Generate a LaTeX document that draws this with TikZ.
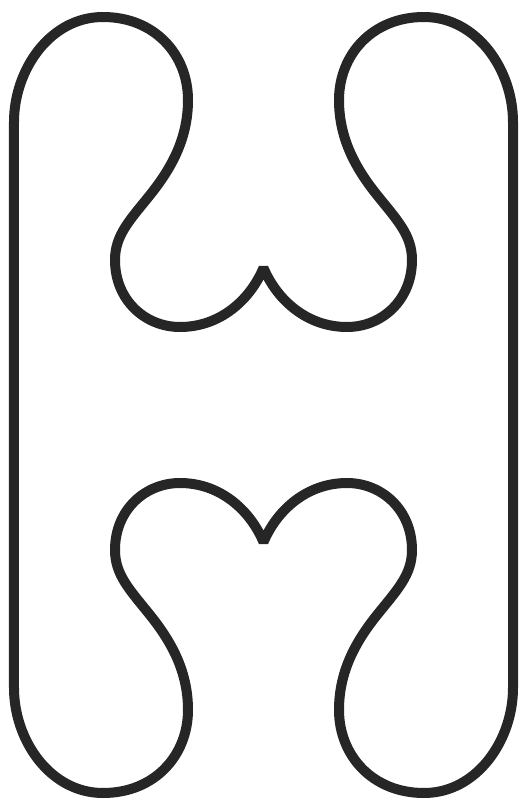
\documentclass[tikz,border=0pt]{standalone}
\begin{document}
\begin{tikzpicture}[x=1pt,y=1pt,
  outline/.style={draw=black!85,line width=10pt,line join=bevel,line cap=round}]
\useasboundingbox (-263.5,-401) rectangle (256.5,405);
\draw[outline]
  % top-left quarter
  (-249.5,0) -- (-249.5,283)
  .. controls (-249.5,335) and (-213.5,388) .. (-160.5,388)
  .. controls (-108.5,388) and (-75.5,350) .. (-75.5,305)
  .. controls (-75.5,265) and (-93.5,235) .. (-113.5,210)
  .. controls (-133.5,185) and (-148.5,170) .. (-148.5,145)
  .. controls (-148.5,105) and (-118.5,78) .. (-83.5,78)
  .. controls (-43.5,78) and (-13.5,105) .. (0,137)
  % top-right quarter
  .. controls (13.5,105) and (43.5,78) .. (83.5,78)
  .. controls (118.5,78) and (148.5,105) .. (148.5,145)
  .. controls (148.5,170) and (133.5,185) .. (113.5,210)
  .. controls (93.5,235) and (75.5,265) .. (75.5,305)
  .. controls (75.5,350) and (108.5,388) .. (160.5,388)
  .. controls (213.5,388) and (249.5,335) .. (249.5,283)
  -- (249.5,0)
  % bottom-right quarter
  -- (249.5,-283)
  .. controls (249.5,-335) and (213.5,-388) .. (160.5,-388)
  .. controls (108.5,-388) and (75.5,-350) .. (75.5,-305)
  .. controls (75.5,-265) and (93.5,-235) .. (113.5,-210)
  .. controls (133.5,-185) and (148.5,-170) .. (148.5,-145)
  .. controls (148.5,-105) and (118.5,-78) .. (83.5,-78)
  .. controls (43.5,-78) and (13.5,-105) .. (0,-137)
  % bottom-left quarter
  .. controls (-13.5,-105) and (-43.5,-78) .. (-83.5,-78)
  .. controls (-118.5,-78) and (-148.5,-105) .. (-148.5,-145)
  .. controls (-148.5,-170) and (-133.5,-185) .. (-113.5,-210)
  .. controls (-93.5,-235) and (-75.5,-265) .. (-75.5,-305)
  .. controls (-75.5,-350) and (-108.5,-388) .. (-160.5,-388)
  .. controls (-213.5,-388) and (-249.5,-335) .. (-249.5,-283)
  -- cycle;
\end{tikzpicture}
\end{document}
